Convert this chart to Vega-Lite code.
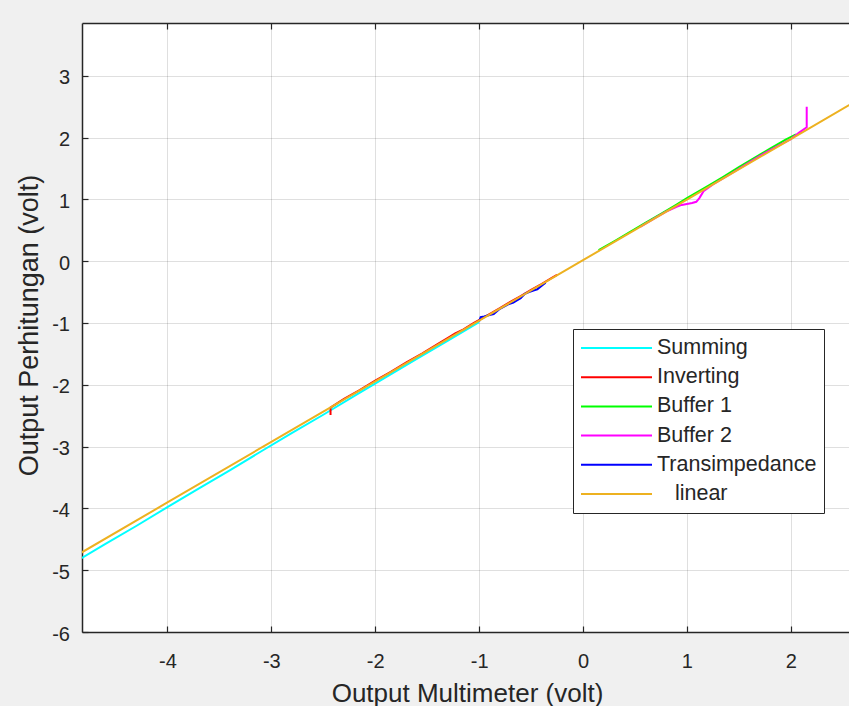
{
  "$schema": "https://vega.github.io/schema/vega-lite/v6.json",
  "width": 767,
  "height": 609,
  "autosize": {"type": "none"},
  "padding": {"left": 82, "top": 23, "right": 0, "bottom": 74},
  "background": "#f0f0f0",
  "config": {
    "font": "Liberation Sans",
    "view": {"fill": "#ffffff", "stroke": null},
    "axis": {
      "domainColor": "#262626",
      "domainWidth": 1.5,
      "tickColor": "#262626",
      "tickWidth": 1.2,
      "tickSize": -6,
      "gridColor": "#262626",
      "gridOpacity": 0.15,
      "gridWidth": 1,
      "labelColor": "#262626",
      "labelFontSize": 20,
      "labelFont": "Liberation Sans",
      "titleColor": "#262626",
      "titleFont": "Liberation Sans",
      "titleFontSize": 26,
      "titleFontWeight": "normal"
    }
  },
  "datasets": {
    "series": [
      {"s": "Summing", "i": 0, "x": -4.9, "y": -4.88},
      {"s": "Summing", "i": 1, "x": -4.6, "y": -4.58},
      {"s": "Summing", "i": 2, "x": -4.3, "y": -4.285},
      {"s": "Summing", "i": 3, "x": -4.0, "y": -3.98},
      {"s": "Summing", "i": 4, "x": -3.7, "y": -3.68},
      {"s": "Summing", "i": 5, "x": -3.4, "y": -3.385},
      {"s": "Summing", "i": 6, "x": -3.1, "y": -3.08},
      {"s": "Summing", "i": 7, "x": -2.8, "y": -2.78},
      {"s": "Summing", "i": 8, "x": -2.5, "y": -2.485},
      {"s": "Summing", "i": 9, "x": -2.2, "y": -2.18},
      {"s": "Summing", "i": 10, "x": -1.9, "y": -1.88},
      {"s": "Summing", "i": 11, "x": -1.6, "y": -1.58},
      {"s": "Summing", "i": 12, "x": -1.3, "y": -1.285},
      {"s": "Summing", "i": 13, "x": -1.0, "y": -0.985},
      {"s": "Inverting", "i": 0, "x": -2.43, "y": -2.49},
      {"s": "Inverting", "i": 1, "x": -2.43, "y": -2.37},
      {"s": "Inverting", "i": 2, "x": -2.3, "y": -2.228},
      {"s": "Inverting", "i": 3, "x": -2.15, "y": -2.085},
      {"s": "Inverting", "i": 4, "x": -2.0, "y": -1.932},
      {"s": "Inverting", "i": 5, "x": -1.85, "y": -1.79},
      {"s": "Inverting", "i": 6, "x": -1.7, "y": -1.638},
      {"s": "Inverting", "i": 7, "x": -1.55, "y": -1.495},
      {"s": "Inverting", "i": 8, "x": -1.4, "y": -1.342},
      {"s": "Inverting", "i": 9, "x": -1.3, "y": -1.24},
      {"s": "Inverting", "i": 10, "x": -1.23, "y": -1.17},
      {"s": "Inverting", "i": 11, "x": -1.15, "y": -1.105},
      {"s": "Inverting", "i": 12, "x": -1.05, "y": -1.0},
      {"s": "Inverting", "i": 13, "x": -0.98, "y": -0.935},
      {"s": "Inverting", "i": 14, "x": -0.9, "y": -0.855},
      {"s": "Inverting", "i": 15, "x": -0.8, "y": -0.76},
      {"s": "Inverting", "i": 16, "x": -0.7, "y": -0.66},
      {"s": "Inverting", "i": 17, "x": -0.6, "y": -0.565},
      {"s": "Inverting", "i": 18, "x": -0.5, "y": -0.465},
      {"s": "Inverting", "i": 19, "x": -0.4, "y": -0.37},
      {"s": "Inverting", "i": 20, "x": -0.3, "y": -0.27},
      {"s": "Inverting", "i": 21, "x": -0.25, "y": -0.222},
      {"s": "Buffer 1", "i": 0, "x": 0.15, "y": 0.178},
      {"s": "Buffer 1", "i": 1, "x": 0.3, "y": 0.322},
      {"s": "Buffer 1", "i": 2, "x": 0.45, "y": 0.47},
      {"s": "Buffer 1", "i": 3, "x": 0.6, "y": 0.618},
      {"s": "Buffer 1", "i": 4, "x": 0.75, "y": 0.765},
      {"s": "Buffer 1", "i": 5, "x": 0.9, "y": 0.915},
      {"s": "Buffer 1", "i": 6, "x": 1.0, "y": 1.018},
      {"s": "Buffer 1", "i": 7, "x": 1.1, "y": 1.115},
      {"s": "Buffer 1", "i": 8, "x": 1.2, "y": 1.215},
      {"s": "Buffer 1", "i": 9, "x": 1.35, "y": 1.365},
      {"s": "Buffer 1", "i": 10, "x": 1.5, "y": 1.52},
      {"s": "Buffer 1", "i": 11, "x": 1.65, "y": 1.672},
      {"s": "Buffer 1", "i": 12, "x": 1.8, "y": 1.822},
      {"s": "Buffer 1", "i": 13, "x": 1.95, "y": 1.965},
      {"s": "Buffer 1", "i": 14, "x": 2.05, "y": 2.05},
      {"s": "Buffer 2", "i": 0, "x": 0.55, "y": 0.555},
      {"s": "Buffer 2", "i": 1, "x": 0.7, "y": 0.705},
      {"s": "Buffer 2", "i": 2, "x": 0.8, "y": 0.8},
      {"s": "Buffer 2", "i": 3, "x": 0.9, "y": 0.88},
      {"s": "Buffer 2", "i": 4, "x": 0.95, "y": 0.91},
      {"s": "Buffer 2", "i": 5, "x": 1.0, "y": 0.925},
      {"s": "Buffer 2", "i": 6, "x": 1.05, "y": 0.94},
      {"s": "Buffer 2", "i": 7, "x": 1.09, "y": 0.96},
      {"s": "Buffer 2", "i": 8, "x": 1.12, "y": 1.02},
      {"s": "Buffer 2", "i": 9, "x": 1.16, "y": 1.13},
      {"s": "Buffer 2", "i": 10, "x": 1.25, "y": 1.24},
      {"s": "Buffer 2", "i": 11, "x": 1.4, "y": 1.39},
      {"s": "Buffer 2", "i": 12, "x": 1.55, "y": 1.545},
      {"s": "Buffer 2", "i": 13, "x": 1.7, "y": 1.7},
      {"s": "Buffer 2", "i": 14, "x": 1.85, "y": 1.84},
      {"s": "Buffer 2", "i": 15, "x": 2.0, "y": 1.975},
      {"s": "Buffer 2", "i": 16, "x": 2.08, "y": 2.08},
      {"s": "Buffer 2", "i": 17, "x": 2.153, "y": 2.165},
      {"s": "Buffer 2", "i": 18, "x": 2.153, "y": 2.5},
      {"s": "Transimpedance", "i": 0, "x": -1.0, "y": -0.975},
      {"s": "Transimpedance", "i": 1, "x": -0.985, "y": -0.905},
      {"s": "Transimpedance", "i": 2, "x": -0.95, "y": -0.895},
      {"s": "Transimpedance", "i": 3, "x": -0.9, "y": -0.87},
      {"s": "Transimpedance", "i": 4, "x": -0.86, "y": -0.855},
      {"s": "Transimpedance", "i": 5, "x": -0.8, "y": -0.77},
      {"s": "Transimpedance", "i": 6, "x": -0.72, "y": -0.7},
      {"s": "Transimpedance", "i": 7, "x": -0.67, "y": -0.67},
      {"s": "Transimpedance", "i": 8, "x": -0.64, "y": -0.64},
      {"s": "Transimpedance", "i": 9, "x": -0.6, "y": -0.6},
      {"s": "Transimpedance", "i": 10, "x": -0.56, "y": -0.53},
      {"s": "Transimpedance", "i": 11, "x": -0.52, "y": -0.5},
      {"s": "Transimpedance", "i": 12, "x": -0.47, "y": -0.47},
      {"s": "Transimpedance", "i": 13, "x": -0.44, "y": -0.455},
      {"s": "Transimpedance", "i": 14, "x": -0.4, "y": -0.4},
      {"s": "Transimpedance", "i": 15, "x": -0.36, "y": -0.35}
    ],
    "linear": [
      {"s": "linear", "i": 0, "x": -4.9, "y": -4.786},
      {"s": "linear", "i": 1, "x": -4.0, "y": -3.904},
      {"s": "linear", "i": 2, "x": -3.0, "y": -2.924},
      {"s": "linear", "i": 3, "x": -2.0, "y": -1.944},
      {"s": "linear", "i": 4, "x": -1.0, "y": -0.964},
      {"s": "linear", "i": 5, "x": 0.0, "y": 0.016},
      {"s": "linear", "i": 6, "x": 1.0, "y": 0.996},
      {"s": "linear", "i": 7, "x": 2.0, "y": 1.976},
      {"s": "linear", "i": 8, "x": 2.7, "y": 2.662}
    ]
  },
  "layer": [
    {
      "data": {"name": "series"},
      "mark": {"type": "line", "strokeWidth": 2, "clip": true},
      "encoding": {
        "x": {
          "field": "x", "type": "quantitative",
          "scale": {"domain": [-4.822, 2.56], "nice": false, "zero": false},
          "axis": {
            "orient": "bottom",
            "values": [-4, -3, -2, -1, 0, 1, 2],
            "labelExpr": "'' + datum.value",
            "labelPadding": 25,
            "title": "Output Multimeter (volt)",
            "titleX": 385,
            "titleY": 61,
            "titleBaseline": "middle",
            "titleAlign": "center"
          }
        },
        "y": {
          "field": "y", "type": "quantitative",
          "scale": {"domain": [-6, 3.853], "nice": false, "zero": false},
          "axis": {
            "values": [-6, -5, -4, -3, -2, -1, 0, 1, 2, 3],
            "labelExpr": "'' + datum.value",
            "labelPadding": 18.5,
            "labelOffset": 2,
            "title": "Output Perhitungan (volt)",
            "titleFontSize": 27,
            "titleAngle": -90,
            "titleX": -45,
            "titleY": 302,
            "titleAlign": "center",
            "titleBaseline": "alphabetic"
          }
        },
        "color": {
          "field": "s", "type": "nominal",
          "scale": {
            "domain": ["Summing", "Inverting", "Buffer 1", "Buffer 2", "Transimpedance", "linear"],
            "range": ["#00ffff", "#ff0000", "#00ff00", "#ff00ff", "#0000ff", "#edb120"]
          },
          "legend": {
            "title": null,
            "orient": "none",
            "legendX": 491,
            "legendY": 306,
            "direction": "vertical",
            "symbolType": "stroke",
            "symbolSize": 5041,
            "symbolStrokeWidth": 2,
            "clipHeight": 24,
            "rowPadding": 5.2,
            "padding": 7,
            "labelFontSize": 21.5,
            "labelFont": "Liberation Sans",
            "labelColor": "#262626",
            "labelOffset": 4,
            "labelLimit": 0,
            "labelExpr": "datum.label === 'linear' ? '\u200b\u2002\u2004linear' : datum.label",
            "strokeColor": "#262626",
            "fillColor": "#ffffff"
          }
        },
        "order": {"field": "i", "type": "quantitative"}
      }
    },
    {
      "data": {"name": "linear"},
      "mark": {"type": "line", "strokeWidth": 2, "clip": true},
      "encoding": {
        "x": {
          "field": "x", "type": "quantitative",
          "axis": {
            "orient": "top",
            "values": [-4, -3, -2, -1, 0, 1, 2],
            "labels": false,
            "grid": false,
            "title": null
          }
        },
        "y": {"field": "y", "type": "quantitative"},
        "color": {"field": "s", "type": "nominal"},
        "order": {"field": "i", "type": "quantitative"}
      }
    }
  ],
  "resolve": {"axis": {"x": "independent"}}
}
